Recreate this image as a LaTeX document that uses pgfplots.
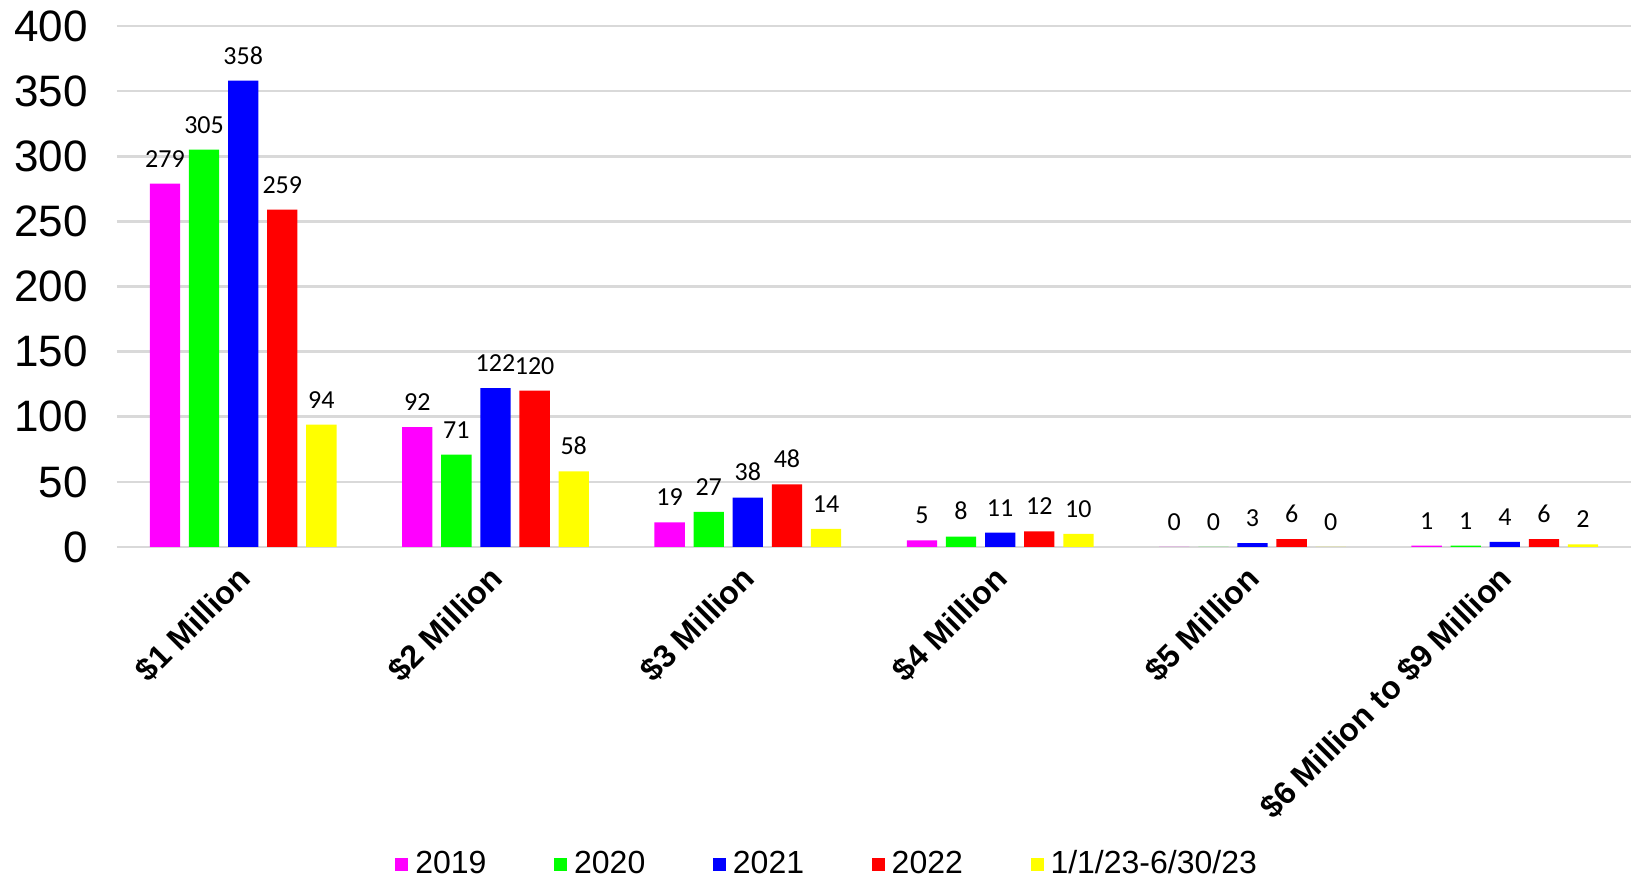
\documentclass[border=0pt]{standalone}
\usepackage{fontspec}
\setmainfont{Liberation Sans}
\newfontfamily\carlito{Carlito}
\usepackage{pgfplots}
\pgfplotsset{compat=1.18}
\definecolor{cMag}{RGB}{255,0,255}
\definecolor{cGrn}{RGB}{0,255,0}
\definecolor{cBlu}{RGB}{0,0,255}
\definecolor{cRed}{RGB}{255,0,0}
\definecolor{cYel}{RGB}{255,255,0}
\definecolor{gridgray}{RGB}{217,217,217}
\begin{document}
\begin{tikzpicture}
\begin{axis}[
  scale only axis, width=757pt, height=260.5pt,
  xmin=-0.5, xmax=5.5, ymin=0, ymax=400,
  ytick={0,50,...,400},
  xtick={0,1,2,3,4,5},
  xticklabels={\$1 Million,\$2 Million,\$3 Million,\$4 Million,\$5 Million,\$6 Million to \$9 Million},
  axis line style={draw=none},
  major tick length=0pt,
  ymajorgrids, grid style={line width=1.3pt, color=gridgray},
  /pgf/number format/assume math mode=true,
  yticklabel style={font=\fontsize{22}{26}\selectfont, anchor=east, inner sep=0pt, xshift=-14.5pt},
  xticklabel style={font=\bfseries\fontsize{16}{19}\selectfont, xshift=-4pt, rotate=45, anchor=north east, inner sep=0pt},
  xticklabel shift=8pt,
  ybar, bar width=0.12,
  clip=false,
  nodes near coords,
  nodes near coords style={font=\carlito\fontsize{13}{15}\selectfont, anchor=south, inner sep=0pt, yshift=8pt, text=black},
  legend columns=5,
  legend style={at={(axis description cs:0.1836,-0.608)}, anchor=west, draw=none, inner sep=0pt,
    font=\fontsize{16}{19}\selectfont, column sep=1.5pt,
    /tikz/every even column/.append style={column sep=31.8pt}},
  legend image code/.code={\fill[#1] (0pt,-3.5pt) rectangle (6.5pt,3pt);},
]
\addplot[fill=cMag, draw=none, bar shift=-0.31] coordinates {(0,279) (1,92) (2,19) (3,5) (4,0) (5,1)};
\addplot[fill=cGrn, draw=none, bar shift=-0.155] coordinates {(0,305) (1,71) (2,27) (3,8) (4,0) (5,1)};
\addplot[fill=cBlu, draw=none, bar shift=0] coordinates {(0,358) (1,122) (2,38) (3,11) (4,3) (5,4)};
\addplot[fill=cRed, draw=none, bar shift=0.155] coordinates {(0,259) (1,120) (2,48) (3,12) (4,6) (5,6)};
\addplot[fill=cYel, draw=none, bar shift=0.31] coordinates {(0,94) (1,58) (2,14) (3,10) (4,0) (5,2)};
\legend{2019,2020,2021,2022,1/1/23-6/30/23}
\end{axis}
\pgfresetboundingbox
\path[use as bounding box] (-58.5pt,-167pt) rectangle (757pt,273.5pt);
\end{tikzpicture}
\end{document}
